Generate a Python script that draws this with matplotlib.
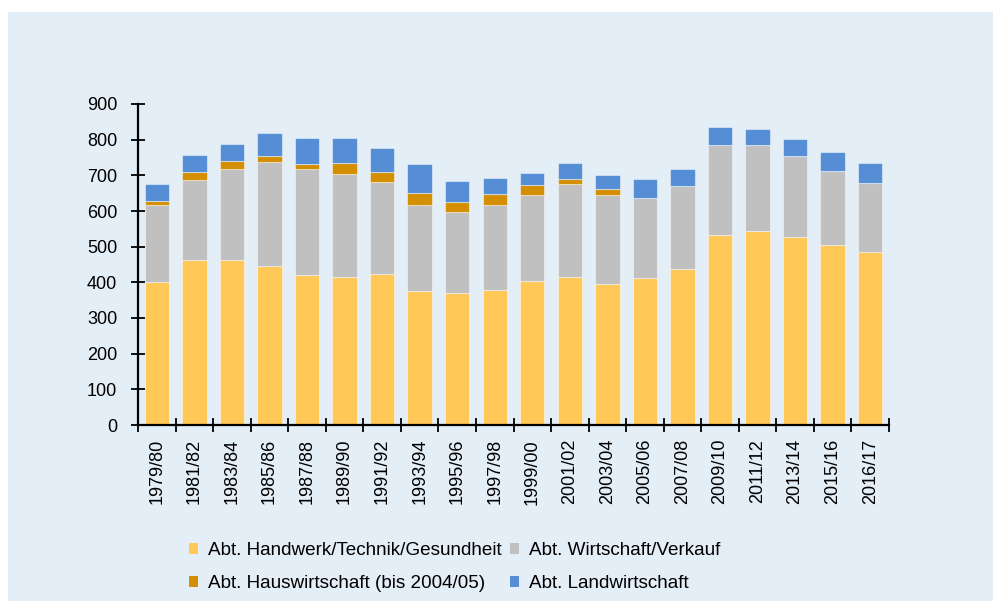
import numpy as np
import matplotlib
matplotlib.use("Agg")
import matplotlib.pyplot as plt
from matplotlib.patches import Rectangle, Patch

plt.rcParams['font.family'] = ['Liberation Sans', 'DejaVu Sans']

years = ['1979/80', '1981/82', '1983/84', '1985/86', '1987/88', '1989/90', '1991/92',
         '1993/94', '1995/96', '1997/98', '1999/00', '2001/02', '2003/04', '2005/06',
         '2007/08', '2009/10', '2011/12', '2013/14', '2015/16', '2016/17']

handwerk = [400, 462, 462, 446, 420, 416, 423, 376, 371, 378,
            405, 415, 394, 413, 436, 533, 545, 527, 505, 486]
wirtschaft = [216, 226, 256, 290, 298, 287, 257, 242, 227, 240,
              240, 261, 251, 224, 234, 252, 240, 228, 206, 192]
hauswirtschaft = [13, 21, 21, 19, 14, 31, 29, 33, 26, 29,
                  28, 13, 16, 0, 0, 0, 0, 0, 0, 0]
landwirtschaft = [48, 47, 48, 65, 73, 71, 68, 80, 59, 46,
                  33, 46, 40, 52, 49, 51, 44, 46, 54, 56]

labels = ['Abt. Handwerk/Technik/Gesundheit', 'Abt. Wirtschaft/Verkauf',
          'Abt. Hauswirtschaft (bis 2004/05)', 'Abt. Landwirtschaft']
colors = ['#FFC857', '#C0C0C0', '#D48F00', '#558ED5']
bg = '#E4EEF7'

fig = plt.figure(figsize=(9.93, 6.01), dpi=100)
fig.patch.set_facecolor('white')
fig.patches.append(Rectangle((8 / 993, 0), 1, 1 - 12 / 601, transform=fig.transFigure,
                             facecolor=bg, edgecolor='none', zorder=-10))

ax = fig.add_axes([138 / 993, 1 - 425 / 601, 751 / 993, 321 / 601])
ax.set_facecolor(bg)

x = np.arange(len(years))
series = [handwerk, wirtschaft, hauswirtschaft, landwirtschaft]
bottom = np.zeros(len(years))
for vals, c in zip(series, colors):
    vals = np.array(vals, dtype=float)
    ax.bar(x, vals, width=0.65, bottom=bottom, color=c,
           edgecolor=(1, 1, 1, 0.45), linewidth=0.8, zorder=2)
    bottom += vals

ax.set_xlim(-0.5, len(years) - 0.5)
ax.set_ylim(0, 900)
ax.set_yticks(np.arange(0, 901, 100))
ax.set_xticks(x)
ax.set_xticklabels(years, rotation=90)
ax.set_xticks(np.arange(-0.5, len(years)), minor=True)
ax.tick_params(axis='x', which='major', length=0, pad=10, labelsize=13)
ax.tick_params(axis='x', which='minor', direction='inout', length=10, width=1.3)
ax.tick_params(axis='y', direction='inout', length=10, width=1.3, pad=10, labelsize=13)

for s in ['top', 'right']:
    ax.spines[s].set_visible(False)
for s in ['left', 'bottom']:
    ax.spines[s].set_linewidth(1.6)

handles = [Patch(facecolor=c) for c in colors]
order = [0, 2, 1, 3]
fig.legend([handles[i] for i in order], [labels[i] for i in order],
           ncol=2, loc='center left', bbox_to_anchor=(189 / 993, 1 - 567 / 601),
           frameon=False, fontsize=13.6, handlelength=0.5, handleheight=0.5,
           handletextpad=0.5, columnspacing=0.45, labelspacing=0.85,
           borderaxespad=0, borderpad=0)

fig.savefig('out.png', dpi=100, facecolor='white')
